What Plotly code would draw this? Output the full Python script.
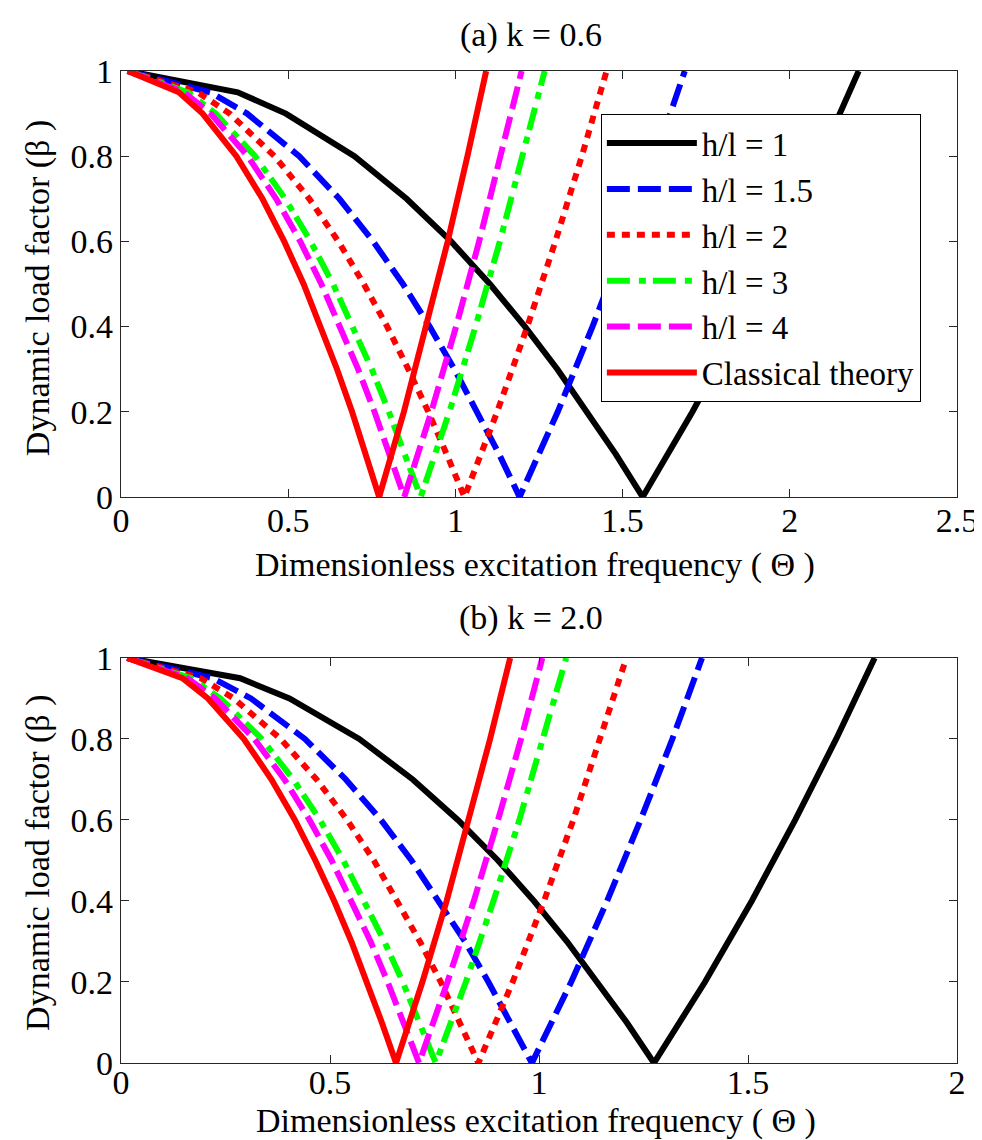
import plotly.graph_objects as go

# ---- data ----
names = ["h/l = 1", "h/l = 1.5", "h/l = 2", "h/l = 3", "h/l = 4", "Classical theory"]
colors = ["#000000", "#0000FF", "#FF0000", "#00FF00", "#FF00FF", "#FF0000"]
dashes = ["solid", "23px,8px", "8px,7px", "23px,9px,7px,7px", "23px,8px", "solid"]

# dynamic load factor values at the polyline vertices (shared by all curves)
beta = [1.0, 0.95, 0.9, 0.8, 0.7, 0.6, 0.5, 0.4, 0.3, 0.2, 0.1, 0.0, 0.2, 0.4, 0.6, 0.8, 1.0]

# (a) k = 0.6 : excitation frequency at each vertex
theta_a_hl1 = [0.02, 0.349, 0.493, 0.698, 0.854, 0.987, 1.103, 1.208, 1.305, 1.395, 1.480, 1.560, 1.709, 1.846, 1.973, 2.093, 2.206]
theta_a_hl15 = [0.02, 0.267, 0.377, 0.533, 0.653, 0.754, 0.843, 0.923, 0.997, 1.066, 1.131, 1.192, 1.306, 1.410, 1.508, 1.599, 1.686]
theta_a_hl2 = [0.02, 0.230, 0.325, 0.459, 0.563, 0.650, 0.726, 0.796, 0.859, 0.919, 0.974, 1.027, 1.125, 1.215, 1.299, 1.378, 1.452]
theta_a_hl3 = [0.02, 0.200, 0.283, 0.401, 0.491, 0.567, 0.634, 0.694, 0.750, 0.801, 0.850, 0.896, 0.982, 1.060, 1.133, 1.202, 1.267]
theta_a_hl4 = [0.02, 0.189, 0.268, 0.379, 0.464, 0.536, 0.599, 0.656, 0.709, 0.758, 0.804, 0.847, 0.928, 1.002, 1.071, 1.136, 1.198]
theta_a_cl = [0.02, 0.173, 0.244, 0.345, 0.423, 0.488, 0.546, 0.598, 0.646, 0.691, 0.732, 0.772, 0.846, 0.913, 0.977, 1.036, 1.092]

# (b) k = 2.0
theta_b_hl1 = [0.015, 0.285, 0.403, 0.570, 0.698, 0.806, 0.902, 0.988, 1.067, 1.140, 1.210, 1.275, 1.397, 1.509, 1.613, 1.711, 1.803]
theta_b_hl15 = [0.015, 0.220, 0.311, 0.440, 0.538, 0.622, 0.695, 0.761, 0.823, 0.879, 0.933, 0.983, 1.077, 1.163, 1.243, 1.319, 1.390]
theta_b_hl2 = [0.015, 0.191, 0.270, 0.382, 0.468, 0.541, 0.605, 0.662, 0.715, 0.765, 0.811, 0.855, 0.937, 1.012, 1.082, 1.147, 1.209]
theta_b_hl3 = [0.015, 0.168, 0.238, 0.337, 0.412, 0.476, 0.532, 0.583, 0.630, 0.674, 0.714, 0.753, 0.825, 0.891, 0.953, 1.010, 1.065]
theta_b_hl4 = [0.015, 0.159, 0.225, 0.319, 0.391, 0.451, 0.504, 0.552, 0.597, 0.638, 0.676, 0.713, 0.781, 0.844, 0.902, 0.957, 1.008]
theta_b_cl = [0.015, 0.147, 0.208, 0.294, 0.360, 0.416, 0.465, 0.510, 0.551, 0.589, 0.624, 0.658, 0.721, 0.779, 0.832, 0.883, 0.931]

theta_a = [theta_a_hl1, theta_a_hl15, theta_a_hl2, theta_a_hl3, theta_a_hl4, theta_a_cl]
theta_b = [theta_b_hl1, theta_b_hl15, theta_b_hl2, theta_b_hl3, theta_b_hl4, theta_b_cl]

x_ticks_a = [0, 0.5, 1, 1.5, 2, 2.5]
x_ticks_b = [0, 0.5, 1, 1.5, 2]
y_ticks = [0, 0.2, 0.4, 0.6, 0.8, 1]

title_a = "(a) k = 0.6"
title_b = "(b) k = 2.0"
x_title = "Dimensionless excitation frequency ( \u0398 )"
y_title = "Dynamic load factor (\u03b2 )"

FONT = "Liberation Serif, Times New Roman, serif"
FS = 34
LW = 6

fig = go.Figure()
for i in range(len(names)):
    fig.add_trace(go.Scatter(
        x=theta_a[i], y=beta, mode="lines", name=names[i],
        line=dict(color=colors[i], width=LW, dash=dashes[i]),
        xaxis="x", yaxis="y", showlegend=True))
for i in range(len(names)):
    fig.add_trace(go.Scatter(
        x=theta_b[i], y=beta, mode="lines", name=names[i],
        line=dict(color=colors[i], width=LW, dash=dashes[i]),
        xaxis="x2", yaxis="y2", showlegend=False))

axis_common = dict(
    showline=True, linecolor="#262626", linewidth=1.3, mirror="ticks",
    ticks="inside", ticklen=8, tickwidth=1, tickcolor="#262626",
    showgrid=False, zeroline=False,
    tickfont=dict(family=FONT, size=FS, color="black"),
)

fig.update_layout(
    width=982, height=1140,
    margin=dict(l=113, r=24, t=63, b=85),
    paper_bgcolor="white", plot_bgcolor="white",
    font=dict(family=FONT, size=FS, color="black"),
    xaxis=dict(domain=[0, 1], range=[0, 2.5], tickvals=x_ticks_a, anchor="y",
               ticklabelstandoff=-7, **axis_common),
    yaxis=dict(domain=[0.5706, 1.0], range=[0, 1], tickvals=y_ticks, anchor="x", **axis_common),
    xaxis2=dict(domain=[0, 1], range=[0, 2], tickvals=x_ticks_b, anchor="y2",
                ticklabelstandoff=-11, **axis_common),
    yaxis2=dict(domain=[0, 0.4083], range=[0, 1], tickvals=y_ticks, anchor="x2", **axis_common),
    showlegend=True,
    legend=dict(
        x=0.574, y=0.9566, xanchor="left", yanchor="top",
        bgcolor="white", bordercolor="black", borderwidth=1,
        font=dict(family=FONT, size=33, color="black"),
        tracegroupgap=0, itemwidth=90,
    ),
)

annots = [
    dict(text=title_a, x=0.491, y=1.0363, yanchor="middle"),
    dict(text=title_b, x=0.491, y=0.4486, yanchor="middle"),
    dict(text=x_title, x=0.4947, y=0.502, yanchor="middle"),
    dict(text=x_title, x=0.4959, y=-0.0800, yanchor="bottom"),
]
for a in annots:
    fig.add_annotation(xref="paper", yref="paper", showarrow=False,
                       xanchor="center",
                       font=dict(family=FONT, size=FS, color="black"), **a)
for yy in [0.781, 0.2016]:
    fig.add_annotation(xref="paper", yref="paper", showarrow=False,
                       x=-0.0994, y=yy, text=y_title, textangle=-90,
                       xanchor="center", yanchor="middle",
                       font=dict(family=FONT, size=FS, color="black"))

fig.write_html("out.html")
